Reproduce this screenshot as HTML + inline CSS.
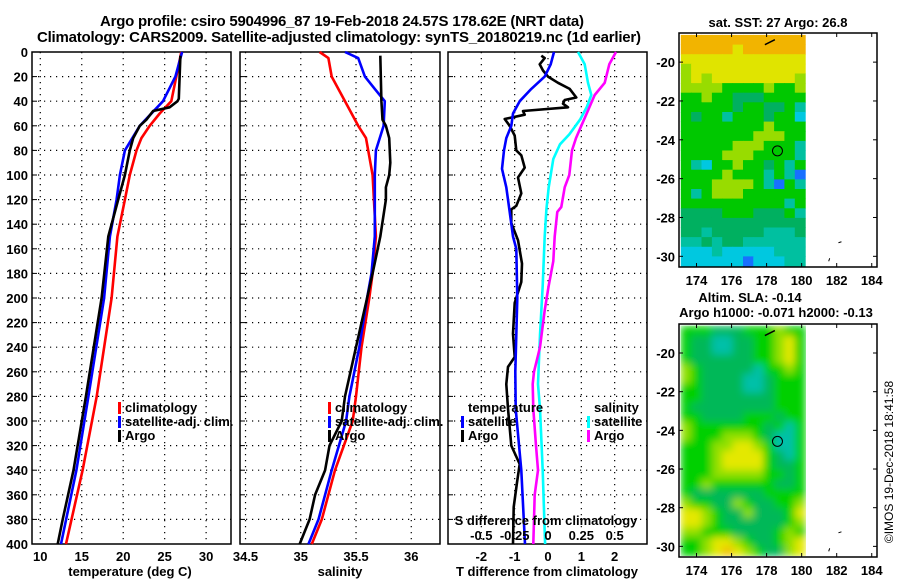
<!DOCTYPE html>
<html><head><meta charset="utf-8"><style>
html,body{margin:0;padding:0;background:#fff;}
svg{display:block;font-family:"Liberation Sans",Arial,sans-serif;font-weight:bold;}
</style></head><body>
<svg id="c" width="900" height="580" viewBox="0 0 900 580" xmlns="http://www.w3.org/2000/svg">
<defs>
<filter id="blur" x="0" y="0" width="1" height="1"><feGaussianBlur stdDeviation="4" edgeMode="duplicate"/></filter>
<clipPath id="slaclip"><rect x="680" y="325" width="126" height="231"/></clipPath>
</defs>
<text x="342" y="26" text-anchor="middle" font-size="15" textLength="484">Argo profile: csiro 5904996_87 19-Feb-2018 24.57S 178.62E (NRT data)</text>
<text x="339" y="42" text-anchor="middle" font-size="15" textLength="604">Climatology: CARS2009. Satellite-adjusted climatology: synTS_20180219.nc (1d earlier)</text>
<text x="778" y="27" text-anchor="middle" font-size="13">sat. SST: 27 Argo: 26.8</text>
<text x="750" y="302" text-anchor="middle" font-size="13">Altim. SLA: -0.14</text>
<text x="776" y="317" text-anchor="middle" font-size="13">Argo h1000: -0.071 h2000: -0.13</text>
<text transform="translate(893,462) rotate(-90)" text-anchor="middle" font-size="12" font-weight="normal">©IMOS 19-Dec-2018 18:41:58</text>
<g id="layer"></g>
</svg>
<script>
// ---- data ----
const depthTicks=[0,20,40,60,80,100,120,140,160,180,200,220,240,260,280,300,320,340,360,380,400];
const tTicks=[10,15,20,25,30];
const sTicks=[34.5,35,35.5,36];
const sTickLabels=["34.5","35","35.5","36"];
const dTicks=[-2,-1,0,1,2];
const sdTicks=[-0.5,-0.25,0,0.25,0.5];
const sdTickLabels=["-0.5","-0.25","0","0.25","0.5"];

const tClimDepth=[0,20,40,50,60,70,80,100,120,150,200,280,340,400];
const tClimVal=[27.0,26.4,25.8,24.4,23.2,22.2,21.6,20.8,20.2,19.3,18.6,16.8,15.1,13.1];
const tSatDepth=[0,20,40,60,80,100,120,150,200,280,340,400];
const tSatVal=[27.1,26.3,24.8,22.0,20.2,19.6,19.2,18.4,17.7,15.8,14.35,12.5];
const tArgoDepth=[3,38,40,45,48,55,60,70,80,100,120,150,200,280,340,380,400];
const tArgoVal=[26.9,26.7,26.55,25.6,23.6,22.8,22.0,21.2,20.8,20.2,19.4,18.2,17.4,15.5,14.0,12.7,12.1];

const sClimDepth=[0,5,20,40,60,70,80,100,150,180,200,240,280,300,340,380,400];
const sClimVal=[35.17,35.25,35.28,35.40,35.52,35.59,35.61,35.65,35.68,35.65,35.62,35.55,35.50,35.47,35.31,35.19,35.10];
const sSatDepth=[0,5,20,30,40,60,80,100,150,180,200,240,280,300,340,380,400];
const sSatVal=[35.40,35.52,35.58,35.67,35.76,35.75,35.68,35.67,35.67,35.64,35.60,35.53,35.44,35.41,35.28,35.16,35.07];
const sArgoDepth=[3,40,55,60,70,90,100,110,120,150,180,200,240,280,300,320,340,360,380,400];
const sArgoVal=[35.72,35.73,35.74,35.77,35.80,35.81,35.80,35.77,35.77,35.72,35.65,35.60,35.50,35.40,35.37,35.26,35.22,35.13,35.08,34.99];

const dtSatDepth=[0,10,20,30,40,50,60,70,80,95,110,130,150,160,200,260,290,340,400];
const dtSatVal=[0.18,0.08,-0.1,-0.5,-0.85,-1.05,-1.1,-1.25,-1.32,-1.38,-1.25,-1.15,-1.05,-0.95,-0.92,-0.98,-0.97,-0.8,-0.69];
const dtArgoDepth=[3,5,10,15,20,25,30,37,39,42,45,48,51,54.5,60,68,80,84,94,102,115,125,128,139,153,172,187,204,229,248,256,270,290,320,335,350,370,400];
const dtArgoVal=[-0.2,-0.1,-0.25,-0.15,0,0.3,0.65,0.85,0.5,0.45,0.6,-0.75,-0.7,-1.3,-1.15,-1.0,-0.95,-0.8,-0.7,-0.9,-0.8,-0.95,-1.1,-1.1,-0.9,-0.78,-0.8,-1.0,-1.05,-1.0,-1.2,-1.25,-1.2,-1.1,-0.85,-0.93,-1.03,-1.05];
const dsSatDepth=[0,10,25,35,45,55,67,75,87,110,128,150,190,230,270,290,340,400];
const dsSatVal=[0.225,0.275,0.3,0.325,0.29,0.24,0.16,0.09,0.04,0.005,-0.012,-0.025,-0.04,-0.06,-0.075,-0.06,-0.04,-0.022];
const dsArgoDepth=[0,10,25,35,50,60,70,80,100,110,126,130,150,170,190,210,240,260,270,290,320,340,360,380,400];
const dsArgoVal=[0.51,0.46,0.425,0.35,0.29,0.25,0.21,0.18,0.16,0.125,0.1,0.07,0.05,0.04,0.005,-0.025,-0.06,-0.105,-0.115,-0.11,-0.09,-0.075,-0.1,-0.105,-0.11];

const mapLonTicks=[174,176,178,180,182,184];
const mapLatTicks=[-20,-22,-24,-26,-28,-30];
const argoLon=178.62, argoLat=-24.57;
const sstGrid=["oooooooooooo","oooooyoooooo","yyyyyyyyyyyy","lyyyyyyyyyyy","lylyyyyyyyyl","llllgggglggl","gglggGGGgggg","gggggGggGGgc","gGggcgggGggb","gggggggglggg","ggggggglllgg","ggggglllgggc","gggglllggggc","gcbgglggGgcg","gggglgggcgcB","gggllllgcBgc","gcglllgggggg","ggggggggggcg","GGGGgggGGGgc","GGGGGGGGGGGG","GGcGGGGGcccG","ccGcGGcccccc","bbbcbbbbbccc","bbbbbbBbbbcc"];
const slaGrid=["gggGGGggglgg","gGGttGGgglyg","gGGttGGgglyg","gGGGGGGgglyg","lgGGGGGtgglg","lgGGGGttGggg","ggGGGGttGggg","ggGGGGGGGggg","gGGGGGGGGggg","ggGGGGgggGgg","lgggggggGgtg","lggglllgGttg","gggllyylgttg","ggglyyyygGtg","ggglyyyygGGg","ggglllllggGg","gglggggggGGg","gGGGGGGGgggg","lggGGlgGGggl","yylgGGlGGGgy","yylgGGGGGGgl","llgggGGGGglg","gglyylgGGgly","gglyoylgGGly"];
const sstColors={o:"#f2b400",y:"#e0e400",l:"#98dc00",g:"#00c800",G:"#00b060",c:"#00c0a0",b:"#00c8e0",B:"#1870ff"};
const slaColors={o:"#f0c000",y:"#e4e800",l:"#90e000",g:"#00d000",G:"#00b858",t:"#00c0a8"};

// ---- drawing ----
const NS="http://www.w3.org/2000/svg";
const L=document.getElementById('layer');
function mk(tag,a,parent){const e=document.createElementNS(NS,tag);for(const k in a)e.setAttribute(k,a[k]);(parent||L).appendChild(e);return e;}
const Y0=52,Y1=544;
const yD=d=>Y0+(d/400)*(Y1-Y0);
const P1={x0:32,x1:231,lo:9.0,hi:33.0};
const P2={x0:240,x1:440,lo:34.45,hi:36.26};
const P3={x0:448,x1:647,lo:-3.0,hi:2.97};
const sx=(p,v)=>p.x0+(v-p.lo)/(p.hi-p.lo)*(p.x1-p.x0);
const sdx=v=>sx(P3,v*4);

function panel(p,name,xt,xl,xfn,xlabel,xlx){
  const g=mk('g',{});
  
  
  depthTicks.forEach(d=>{const y=yD(d);
    if(d>0&&d<400){const l=mk('line',{x1:p.x0,x2:p.x1,y1:y,y2:y,stroke:'#000','stroke-width':1.2,'stroke-dasharray':'1.2,4.8'},g);
      
      }
    mk('line',{x1:p.x0,x2:p.x0+5,y1:y,y2:y,stroke:'#000','stroke-width':1},g);
  });
  xt.forEach((v,i)=>{const x=xfn(v);
    const l=mk('line',{x1:x,x2:x,y1:Y0,y2:Y1,stroke:'#000','stroke-width':1.2,'stroke-dasharray':'1.2,4.8'},g);
    
    
    if(xl){const t=mk('text',{x:x,y:561,'text-anchor':'middle','font-size':13},g);t.textContent=xl[i];
      
      }
  });
  const r=mk('rect',{x:p.x0,y:Y0,width:p.x1-p.x0,height:Y1-Y0,fill:'none',stroke:'#000','stroke-width':1.5},g);
  
  
  const t=mk('text',{x:xlx,y:576,'text-anchor':'middle','font-size':13},g);t.textContent=xlabel;
  
  
  return g;
}
function line(depths,vals,fx,color,name){
  const pts=depths.map((d,i)=>fx(vals[i]).toFixed(1)+','+yD(d).toFixed(1)).join(' ');
  const e=mk('polyline',{points:pts,fill:'none',stroke:color,'stroke-width':2.6,'stroke-linejoin':'round'});
  
  
}
function txt(x,y,s,name,anchor,size){const t=mk('text',{x:x,y:y,'font-size':size||13,'text-anchor':anchor||'start'});t.textContent=s;
  
  return t;}
function mark(x,y,color,name){const e=mk('rect',{x:x-1,y:y-10,width:3,height:12,fill:color});
  
  }

depthTicks.forEach(d=>{txt(28,yD(d)+5,String(d),'y-tick-label','end',13);});

panel(P1,'temperature-panel',tTicks,tTicks.map(String),v=>sx(P1,v),'temperature (deg C)',130);
panel(P2,'salinity-panel',sTicks,sTickLabels,v=>sx(P2,v),'salinity',340);
panel(P3,'difference-panel',dTicks,dTicks.map(String),v=>sx(P3,v),'T difference from climatology',547);

line(tClimDepth,tClimVal,v=>sx(P1,v),'#ff0000','temp-climatology-line');
line(tSatDepth,tSatVal,v=>sx(P1,v),'#0000ff','temp-satellite-line');
line(tArgoDepth,tArgoVal,v=>sx(P1,v),'#000','temp-argo-line');
line(sClimDepth,sClimVal,v=>sx(P2,v),'#ff0000','sal-climatology-line');
line(sSatDepth,sSatVal,v=>sx(P2,v),'#0000ff','sal-satellite-line');
line(sArgoDepth,sArgoVal,v=>sx(P2,v),'#000','sal-argo-line');
line(dtArgoDepth,dtArgoVal,v=>sx(P3,v),'#000','tdiff-argo-line');
line(dtSatDepth,dtSatVal,v=>sx(P3,v),'#0000ff','tdiff-satellite-line');
line(dsSatDepth,dsSatVal,sdx,'#00ffff','sdiff-satellite-line');
line(dsArgoDepth,dsArgoVal,sdx,'#ff00ff','sdiff-argo-line');

[[P1,119],[P2,329]].forEach(([p,lx],k)=>{
  mark(lx,412,'#ff0000','legend-climatology-marker');txt(lx+6,412,'climatology','legend-climatology');
  mark(lx,426,'#0000ff','legend-satellite-marker');txt(lx+6,426,'satellite-adj. clim.','legend-satellite-adj');
  mark(lx,440,'#000','legend-argo-marker');txt(lx+6,440,'Argo','legend-argo');
});
txt(468,412,'temperature','legend-temperature-header');
mark(462,426,'#0000ff','legend-t-satellite-marker');txt(468,426,'satellite','legend-t-satellite');
mark(462,440,'#000','legend-t-argo-marker');txt(468,440,'Argo','legend-t-argo');
txt(594,412,'salinity','legend-salinity-header');
mark(588,426,'#00ffff','legend-s-satellite-marker');txt(594,426,'satellite','legend-s-satellite');
mark(588,440,'#ff00ff','legend-s-argo-marker');txt(594,440,'Argo','legend-s-argo');
txt(546,525,'S difference from climatology','s-axis-title','middle');
sdTicks.forEach((v,i)=>{txt(sdx(v),540,sdTickLabels[i],'s-tick-label','middle');});

function map(top,bottom,grid,colors,name,smooth){
  const M={x0:679,x1:877,lonLo:173.0,lonHi:184.3,latTop:-18.5,latBot:-30.55,y0:top,y1:bottom};
  const mx=lon=>M.x0+(lon-M.lonLo)/(M.lonHi-M.lonLo)*(M.x1-M.x0);
  const my=lat=>M.y0+(M.latTop-lat)/(M.latTop-M.latBot)*(M.y1-M.y0);
  const g=mk('g',{});
  
  
  const outer=smooth?mk('g',{'clip-path':'url(#slaclip)'},g):g;
  const cg=smooth?mk('g',{filter:'url(#blur)'},outer):g;
  const lon0=173.1,lon1=180.2,lat0=-18.6,lat1=-30.5;
  const rows=grid.length,cols=grid[0].length;
  const cw=(lon1-lon0)/cols,ch=(lat0-lat1)/rows;
  grid.forEach((row,r)=>{[...row].forEach((c,k)=>{
    const x=mx(lon0+k*cw),y=my(lat0-r*ch);
    const cell=mk('rect',{x:x.toFixed(1),y:y.toFixed(1),width:(mx(lon0+(k+1)*cw)-x+0.5).toFixed(1),height:(my(lat0-(r+1)*ch)-y+0.5).toFixed(1),fill:colors[c]},cg);
    
    
  });});
  mapLonTicks.forEach(v=>{const x=mx(v);
    mk('line',{x1:x,x2:x,y1:M.y0,y2:M.y0+4,stroke:'#000'},g);mk('line',{x1:x,x2:x,y1:M.y1,y2:M.y1-4,stroke:'#000'},g);
    const t=mk('text',{x:x,y:M.y1+18,'text-anchor':'middle','font-size':13},g);t.textContent=String(v);
    
    });
  mapLatTicks.forEach(v=>{const y=my(v);
    mk('line',{x1:M.x0,x2:M.x0+4,y1:y,y2:y,stroke:'#000'},g);mk('line',{x1:M.x1,x2:M.x1-4,y1:y,y2:y,stroke:'#000'},g);
    const t=mk('text',{x:675,y:y+5,'text-anchor':'end','font-size':13},g);t.textContent=String(v);
    
    });
  mk('rect',{x:M.x0,y:M.y0,width:M.x1-M.x0,height:M.y1-M.y0,fill:'none',stroke:'#000','stroke-width':1.5},g);
  const c=mk('circle',{cx:mx(argoLon),cy:my(argoLat),r:5,fill:'none',stroke:'#000','stroke-width':1},g);
  
  
  mk('path',{d:`M${mx(177.9)} ${my(-19.1)} l6 -3 l4 -2`,stroke:'#000',fill:'none','stroke-width':1.5},g);
  mk('path',{d:`M${mx(182.1)} ${my(-29.3)} l3 -1 M${mx(181.6)} ${my(-30.1)} l-1 3`,stroke:'#000',fill:'none','stroke-width':1},g);
}
map(33,267,sstGrid,sstColors,'sst-map',false);
map(324,557,slaGrid,slaColors,'sla-map',true);
</script>
</body></html>
